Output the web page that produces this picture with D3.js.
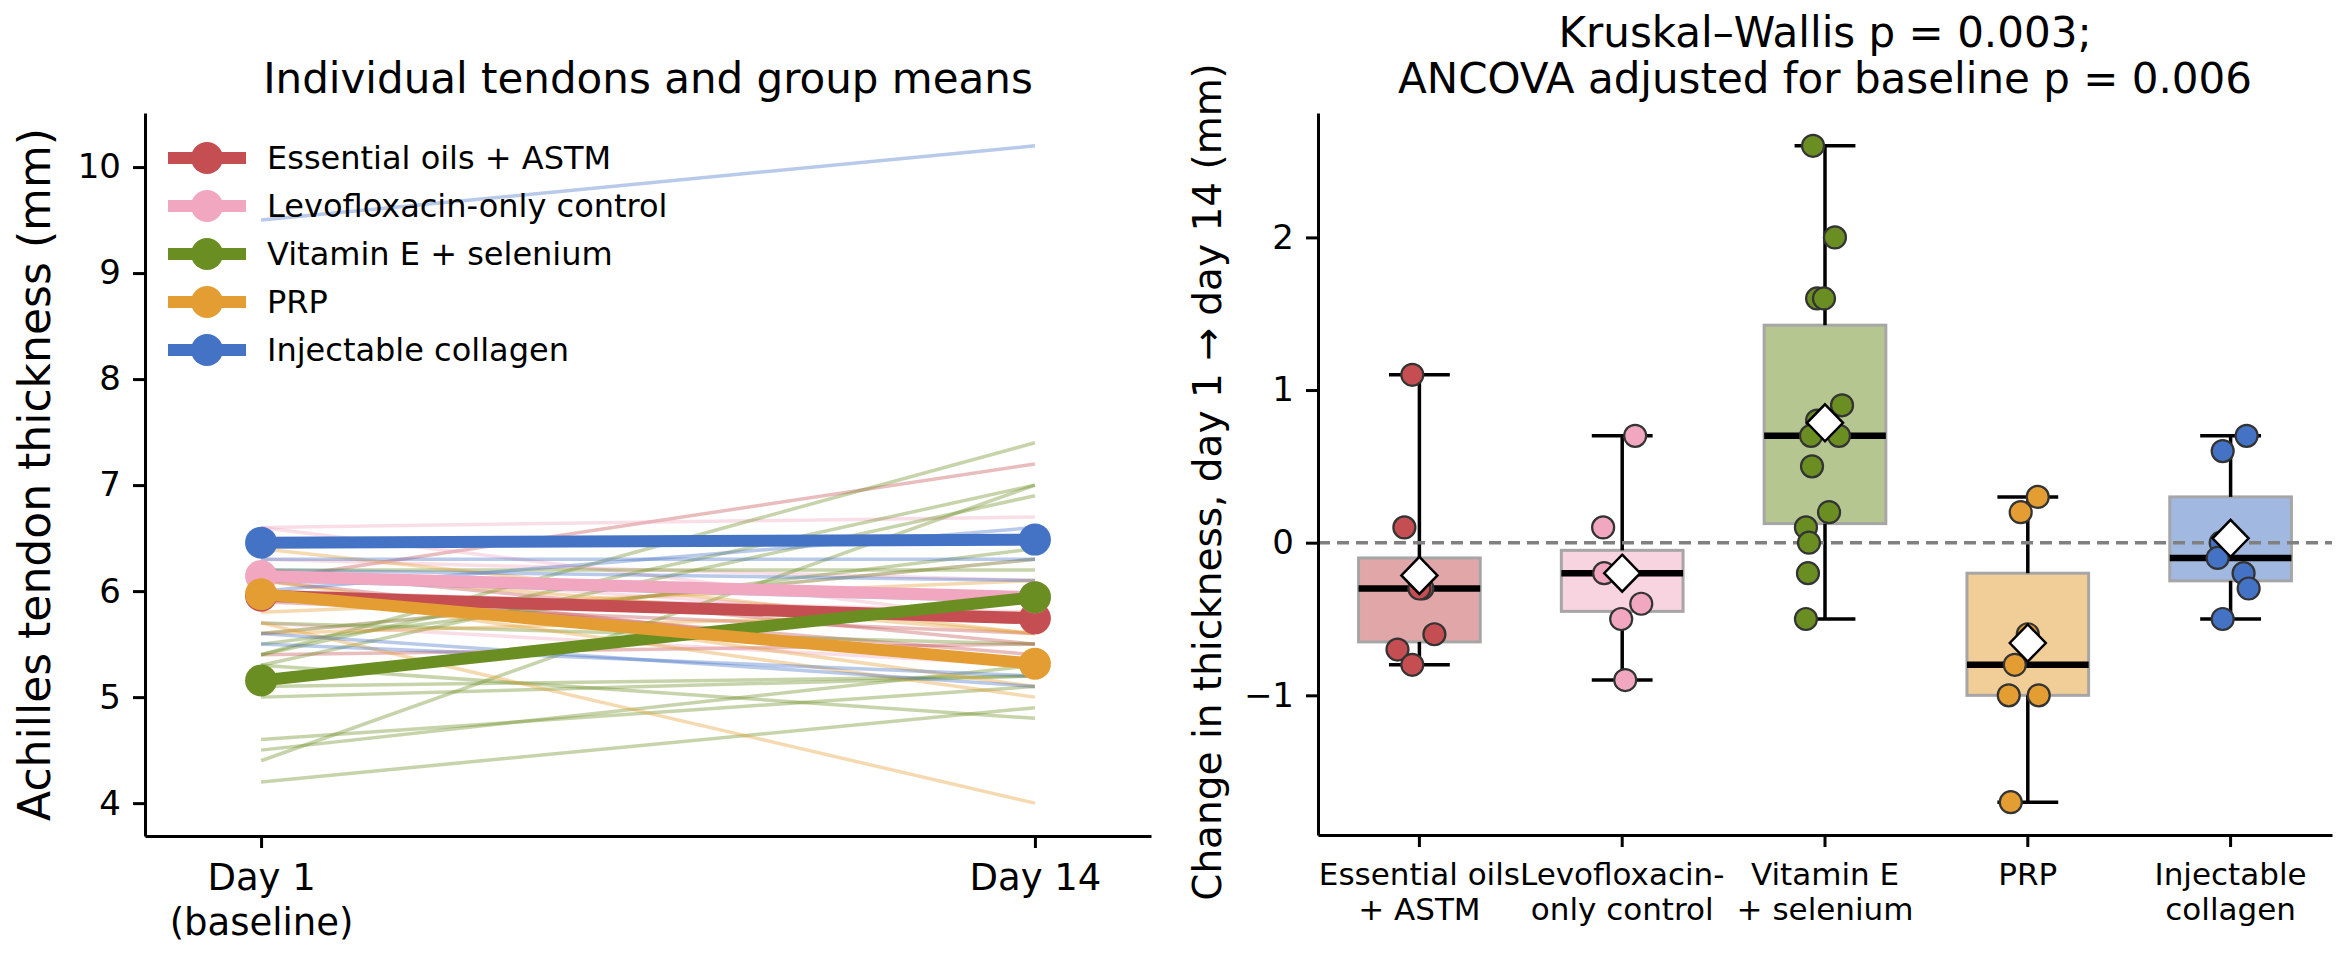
<!DOCTYPE html>
<html>
<head>
<meta charset="utf-8">
<script src="https://cdn.jsdelivr.net/npm/d3@7"></script>
<style>
  body { margin: 0; background: #fff; }
  text { font-family: "DejaVu Sans", sans-serif; fill: #000; }
</style>
</head>
<body>
<svg id="chart" width="2336" height="962"></svg>
<script>
// Groups and their colours
const groups = ['Essential oils + ASTM', 'Levofloxacin-only control', 'Vitamin E + selenium', 'PRP', 'Injectable collagen'];
const groupTicks = [['Essential oils', '+ ASTM'], ['Levofloxacin-', 'only control'], ['Vitamin E', '+ selenium'], ['PRP'], ['Injectable', 'collagen']];
const colors = ['#c44e52', '#f2a7c1', '#6b8e23', '#e49d32', '#4472c4'];

// Tendon thickness (mm) at day 1 and day 14, one entry per tendon
const oilsDay1 = [6.1, 5.4, 6.0, 5.9, 6.0, 6.2, 6.1];
const oilsDay14 = [7.2, 5.5, 5.7, 5.6, 5.4, 5.5, 5.3];
const levoDay1 = [5.6, 6.6, 6.6, 6.3, 6.0, 5.7, 6.2];
const levoDay14 = [6.3, 6.7, 5.7, 6.1, 5.8, 5.3, 5.7];
const vitDay1 = [4.4, 5.4, 5.4, 5.3, 5.5, 4.5, 5.6, 4.2, 4.6, 5.0, 5.1, 6.2, 5.7, 5.3];
const vitDay14 = [7.0, 7.4, 7.0, 6.9, 6.4, 5.3, 6.3, 4.9, 5.1, 5.2, 5.2, 6.2, 5.5, 4.8];
const prpDay1 = [5.8, 5.6, 6.2, 6.4, 6.0, 6.1, 5.7];
const prpDay14 = [6.1, 5.8, 5.6, 5.6, 5.0, 5.1, 4.0];
const collDay1 = [9.5, 6.0, 6.3, 6.2, 6.1, 5.5, 5.6];
const collDay14 = [10.2, 6.6, 6.3, 6.1, 5.9, 5.2, 5.1];

// Strip-plot jitter (fraction of a category slot)
const oilsJitter = [-0.035, -0.074, 0.015, 0, 0.074, -0.108, -0.035];
const levoJitter = [0.064, -0.094, 0.015, -0.089, 0, 0.094, -0.005];
const vitJitter = [-0.059, 0.049, -0.039, -0.005, 0.084, -0.039, -0.069, 0.069, -0.064, 0.020, -0.094, -0.079, -0.084, -0.094];
const prpJitter = [0.049, -0.035, 0, -0.064, -0.094, 0.054, -0.084];
const collJitter = [0.079, -0.039, -0.049, -0.064, 0.064, 0.089, -0.039];

const dayTicks = [['Day 1', '(baseline)'], ['Day 14']];
const leftYTicks = [4, 5, 6, 7, 8, 9, 10];
const rightYTicks = [-1, 0, 1, 2];
const leftTitle = 'Individual tendons and group means';
const rightTitle = ['Kruskal\u2013Wallis p = 0.003;', 'ANCOVA adjusted for baseline p = 0.006'];

const day1 = [oilsDay1, levoDay1, vitDay1, prpDay1, collDay1];
const day14 = [oilsDay14, levoDay14, vitDay14, prpDay14, collDay14];
const jitters = [oilsJitter, levoJitter, vitJitter, prpJitter, collJitter];

const data = groups.map((g, i) => {
  const tendons = day1[i].map((b, j) => ({
    base: b,
    end: day14[i][j],
    change: Math.round((day14[i][j] - b) * 10) / 10,
    jitter: jitters[i][j]
  }));
  return {
    name: g,
    color: colors[i],
    tendons,
    meanBase: d3.mean(tendons, t => t.base),
    meanEnd: d3.mean(tendons, t => t.end)
  };
});

const svg = d3.select('#chart');
svg.append('rect').attr('width', 2336).attr('height', 962).attr('fill', '#fff');

function styleAxis(g, fontSize) {
  g.selectAll('path.domain').attr('stroke', '#000').attr('stroke-width', 3);
  g.selectAll('.tick line').attr('stroke', '#000').attr('stroke-width', 3);
  g.selectAll('.tick text').attr('font-size', fontSize).attr('font-family', '"DejaVu Sans", sans-serif');
}

// ---------- Left panel: spaghetti plot ----------
const xL = d3.scaleLinear().domain([-0.15, 1.15]).range([145, 1151]);
const yL = d3.scaleLinear().domain([3.69, 10.51]).range([836, 113]);

const left = svg.append('g');

// individual tendons
data.forEach(grp => {
  left.selectAll(null)
    .data(grp.tendons)
    .enter()
    .append('line')
    .attr('x1', xL(0))
    .attr('x2', xL(1))
    .attr('y1', d => yL(d.base))
    .attr('y2', d => yL(d.end))
    .attr('stroke', grp.color)
    .attr('stroke-width', 3.5)
    .attr('stroke-opacity', 0.38);
});

// group means
data.forEach(grp => {
  left.append('line')
    .attr('x1', xL(0))
    .attr('x2', xL(1))
    .attr('y1', yL(grp.meanBase))
    .attr('y2', yL(grp.meanEnd))
    .attr('stroke', grp.color)
    .attr('stroke-width', 12);
  left.selectAll(null)
    .data([[0, grp.meanBase], [1, grp.meanEnd]])
    .enter()
    .append('circle')
    .attr('cx', d => xL(d[0]))
    .attr('cy', d => yL(d[1]))
    .attr('r', 16)
    .attr('fill', grp.color);
});

// axes
const gLy = left.append('g')
  .attr('transform', `translate(${xL.range()[0]},0)`)
  .call(d3.axisLeft(yL).tickValues(leftYTicks).tickFormat(d3.format('d')).tickSize(12).tickSizeOuter(0).tickPadding(12));
styleAxis(gLy, 34);

const gLx = left.append('g')
  .attr('transform', `translate(0,${yL.range()[0]})`)
  .call(d3.axisBottom(xL).tickValues([0, 1]).tickSize(12).tickSizeOuter(0).tickPadding(16));
styleAxis(gLx, 37);
gLx.selectAll('.tick text').each(function (d) {
  const t = d3.select(this).text('');
  dayTicks[d].forEach((line, k) => {
    t.append('tspan').attr('x', 0).attr('dy', k === 0 ? '0.71em' : '1.22em').text(line);
  });
}).attr('dy', null);

// labels
left.append('text')
  .attr('x', (xL.range()[0] + xL.range()[1]) / 2)
  .attr('y', 93)
  .attr('text-anchor', 'middle')
  .attr('font-size', 42)
  .text(leftTitle);

left.append('text')
  .attr('transform', `translate(50,${(yL.range()[0] + yL.range()[1]) / 2}) rotate(-90)`)
  .attr('text-anchor', 'middle')
  .attr('font-size', 44)
  .text('Achilles tendon thickness (mm)');

// legend
const legend = left.append('g').attr('transform', 'translate(168,158)');
data.forEach((grp, i) => {
  const row = legend.append('g').attr('transform', `translate(0,${i * 48})`);
  row.append('line').attr('x1', 0).attr('x2', 78).attr('stroke', grp.color).attr('stroke-width', 12);
  row.append('circle').attr('cx', 39).attr('r', 16).attr('fill', grp.color);
  row.append('text').attr('x', 99).attr('dy', '0.35em').attr('font-size', 32).text(grp.name);
});

// ---------- Right panel: box + strip plot of change ----------
const xR = d3.scaleBand().domain(groups).range([1318, 2332]).padding(0);
const yR = d3.scaleLinear().domain([-1.915, 2.815]).range([835, 113]);
const bw = xR.bandwidth();

const right = svg.append('g');

data.forEach(grp => {
  const vals = grp.tendons.map(t => t.change).sort(d3.ascending);
  const q1 = d3.quantile(vals, 0.25);
  const med = d3.quantile(vals, 0.5);
  const q3 = d3.quantile(vals, 0.75);
  const cx = xR(grp.name) + bw / 2;
  const g = right.append('g');

  g.append('rect')
    .attr('x', cx - bw * 0.3)
    .attr('width', bw * 0.6)
    .attr('y', yR(q3))
    .attr('height', yR(q1) - yR(q3))
    .attr('fill', grp.color)
    .attr('fill-opacity', 0.5)
    .attr('stroke', '#a6a6a6')
    .attr('stroke-width', 3);

  // whiskers to min / max
  [[q3, d3.max(vals)], [q1, d3.min(vals)]].forEach(([from, to]) => {
    g.append('line').attr('x1', cx).attr('x2', cx).attr('y1', yR(from)).attr('y2', yR(to))
      .attr('stroke', '#000').attr('stroke-width', 3.5);
    g.append('line').attr('x1', cx - bw * 0.15).attr('x2', cx + bw * 0.15).attr('y1', yR(to)).attr('y2', yR(to))
      .attr('stroke', '#000').attr('stroke-width', 3.5);
  });

  g.append('line')
    .attr('x1', cx - bw * 0.3).attr('x2', cx + bw * 0.3)
    .attr('y1', yR(med)).attr('y2', yR(med))
    .attr('stroke', '#000').attr('stroke-width', 6.5);
});

// zero reference
right.append('line')
  .attr('x1', xR.range()[0]).attr('x2', xR.range()[1])
  .attr('y1', yR(0)).attr('y2', yR(0))
  .attr('stroke', '#808080').attr('stroke-width', 3.5)
  .attr('stroke-dasharray', '12,7');

// points and means
data.forEach(grp => {
  const cx = xR(grp.name) + bw / 2;
  right.selectAll(null)
    .data(grp.tendons)
    .enter()
    .append('circle')
    .attr('cx', d => cx + d.jitter * bw)
    .attr('cy', d => yR(d.change))
    .attr('r', 11)
    .attr('fill', grp.color)
    .attr('stroke', '#333')
    .attr('stroke-width', 2.2);

  const m = d3.mean(grp.tendons, t => t.change);
  const my = yR(m);
  right.append('path')
    .attr('d', `M${cx},${my - 18.5}L${cx + 18},${my}L${cx},${my + 18.5}L${cx - 18},${my}Z`)
    .attr('fill', '#fff')
    .attr('stroke', '#000')
    .attr('stroke-width', 2.5);
});

const gRy = right.append('g')
  .attr('transform', `translate(${xR.range()[0]},0)`)
  .call(d3.axisLeft(yR).tickValues(rightYTicks).tickFormat(d3.format('d')).tickSize(12).tickSizeOuter(0).tickPadding(12));
styleAxis(gRy, 34);

const gRx = right.append('g')
  .attr('transform', `translate(0,${yR.range()[0]})`)
  .call(d3.axisBottom(xR).tickSize(12).tickSizeOuter(0).tickPadding(16));
styleAxis(gRx, 31);
gRx.selectAll('.tick text').each(function (d, i) {
  const t = d3.select(this).text('');
  groupTicks[i].forEach((line, k) => {
    t.append('tspan').attr('x', 0).attr('dy', k === 0 ? '0.71em' : '1.12em').text(line);
  });
}).attr('dy', null);

rightTitle.forEach((line, k) => {
  right.append('text')
    .attr('x', (xR.range()[0] + xR.range()[1]) / 2)
    .attr('y', 47 + k * 46)
    .attr('text-anchor', 'middle')
    .attr('font-size', 42)
    .text(line);
});

right.append('text')
  .attr('transform', `translate(1221,${(yR.range()[0] + yR.range()[1]) / 2 + 8}) rotate(-90)`)
  .attr('text-anchor', 'middle')
  .attr('font-size', 39)
  .text('Change in thickness, day 1 \u2192 day 14 (mm)');
</script>
</body>
</html>
